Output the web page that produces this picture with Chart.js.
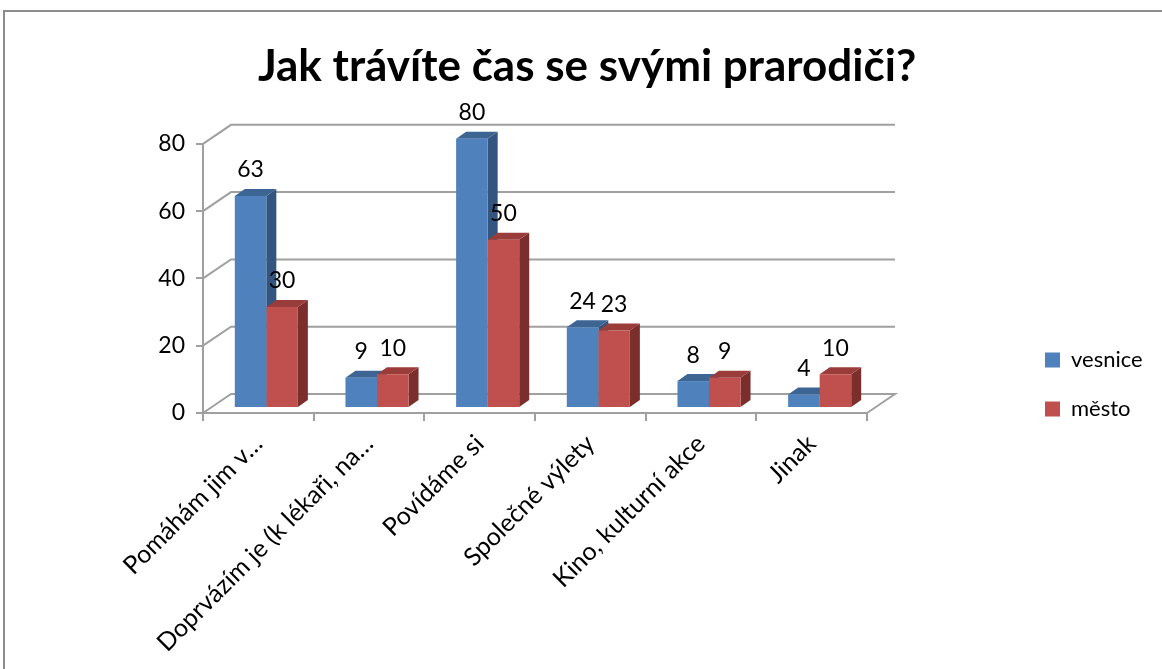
<!DOCTYPE html>
<html>
<head>
<meta charset="utf-8">
<script src="https://cdn.jsdelivr.net/npm/chart.js@4.4.1/dist/chart.umd.min.js"></script>
<style>
  html, body { margin: 0; padding: 0; background: #fff; }
  #wrap { position: relative; width: 1162px; height: 669px; }
  #frame { position: absolute; left: 3px; top: 10px; right: -5px; bottom: -5px;
           border-left: 2px solid #8c8c8c; border-top: 2px solid #8c8c8c; }
  canvas { position: absolute; left: 0; top: 0; }
</style>
</head>
<body>
<div id="wrap">
  <div id="frame"></div>
  <canvas id="myChart" width="1162" height="669"></canvas>
</div>
<script>
/* data */
const categories = [
  "Pomáhám jim v…",
  "Doprvázím je (k lékaři, na…",
  "Povídáme si",
  "Společné výlety",
  "Kino, kulturní akce",
  "Jinak"
];
const seriesNames = ["vesnice", "město"];
const vesnice = [63, 9, 80, 24, 8, 4];
const mesto = [30, 10, 50, 23, 9, 10];
const yTicks = [0, 20, 40, 60, 80];

/* colours: front, top, side */
const blue = ["#4f81bd", "#3c6594", "#33557f"];
const red = ["#c0504d", "#9a3c3a", "#7b2f2d"];
const gridColor = "#a0a0a0";
const fontName = "Lato, 'Open Sans', sans-serif";

/* 3d offsets */
const WALL = { dx: 28, dy: -19 };
const BAR_SHIFT = { dx: 8, dy: -5 };
const BAR_DEPTH = { dx: 10, dy: -7 };

/*--------------- fondo 3D: paredes y lineas de la cuadricula ---------------*/
const wallPlugin = {
  id: "wall3d",
  beforeDatasetsDraw(chart) {
    const ctx = chart.ctx;
    const y = chart.scales.y;
    const xl = chart.chartArea.left, xr = chart.chartArea.right;
    ctx.save();
    ctx.strokeStyle = gridColor;
    ctx.lineWidth = 2;
    yTicks.forEach((v) => {
      const py = y.getPixelForValue(v);
      ctx.beginPath();
      ctx.moveTo(xl, py);
      ctx.lineTo(xl + WALL.dx, py + WALL.dy);
      ctx.lineTo(xr + WALL.dx, py + WALL.dy);
      if (v === 0) ctx.lineTo(xr, py);
      ctx.stroke();
    });
    ctx.restore();

    /* caras laterales y superiores de las barras */
    ctx.save();
    ctx.translate(BAR_SHIFT.dx, BAR_SHIFT.dy);
    chart.data.datasets.forEach((ds, i) => {
      const meta = chart.getDatasetMeta(i);
      const pal = i === 0 ? blue : red;
      meta.data.forEach((bar) => {
        const l = bar.x - bar.width / 2, r = bar.x + bar.width / 2;
        const t = bar.y, b = bar.base;
        // lado
        ctx.fillStyle = pal[2];
        ctx.beginPath();
        ctx.moveTo(r, t);
        ctx.lineTo(r + BAR_DEPTH.dx, t + BAR_DEPTH.dy);
        ctx.lineTo(r + BAR_DEPTH.dx, b + BAR_DEPTH.dy);
        ctx.lineTo(r, b);
        ctx.closePath();
        ctx.fill();
        // arriba
        ctx.fillStyle = pal[1];
        ctx.beginPath();
        ctx.moveTo(l, t);
        ctx.lineTo(l + BAR_DEPTH.dx, t + BAR_DEPTH.dy);
        ctx.lineTo(r + BAR_DEPTH.dx, t + BAR_DEPTH.dy);
        ctx.lineTo(r, t);
        ctx.closePath();
        ctx.fill();
      });
    });
    // la parte frontal la dibuja Chart.js con el mismo desplazamiento
  },
  afterDatasetsDraw(chart) {
    const ctx = chart.ctx;
    /* etiquetas de datos */
    ctx.fillStyle = "#000";
    ctx.font = "23px " + fontName;
    ctx.textAlign = "center";
    ctx.textBaseline = "middle";
    chart.data.datasets.forEach((ds, i) => {
      const meta = chart.getDatasetMeta(i);
      meta.data.forEach((bar, j) => {
        ctx.fillText(String(ds.data[j]), bar.x, bar.y - 26);
      });
    });
    ctx.restore();
  },
  afterLayout(chart) {
    /* mover la leyenda y centrar el titulo */
    const lg = chart.legend;
    const w = lg.right - lg.left, h = lg.bottom - lg.top;
    lg.left = 1018; lg.right = lg.left + w;
    lg.top = 322; lg.bottom = lg.top + h;
    const tb = chart.titleBlock;
    tb.left = 0; tb.right = 1174;
    tb.width = tb.right - tb.left;
  }
};

const ctx = document.getElementById("myChart");
const dataset = {
  labels: categories,
  datasets: [
    { label: seriesNames[0], data: vesnice, backgroundColor: blue[0], clip: false },
    { label: seriesNames[1], data: mesto, backgroundColor: red[0], clip: false }
  ]
};

const config = {
  type: "bar",
  data: dataset,
  options: {
    responsive: false,
    animation: false,
    layout: { padding: { left: 0, right: 295, top: 0, bottom: 0 } },
    datasets: { bar: { categoryPercentage: 0.57, barPercentage: 1.0 } },
    plugins: {
      title: {
        display: true,
        text: "Jak trávíte čas se svými prarodiči?",
        color: "#000",
        font: { family: fontName, size: 44, weight: "bold" },
        padding: { top: 40, bottom: 51 }
      },
      legend: {
        position: "chartArea",
        align: "start",
        labels: {
          boxWidth: 15,
          boxHeight: 15,
          padding: 27,
          color: "#000",
          font: { family: fontName, size: 22 }
        }
      },
      tooltip: { enabled: false }
    },
    scales: {
      x: {
        grid: { drawOnChartArea: false, color: gridColor, lineWidth: 2, tickLength: 8 },
        border: { color: gridColor, width: 2 },
        ticks: {
          color: "#000",
          font: { family: fontName, size: 25 },
          maxRotation: 45,
          minRotation: 45,
          autoSkip: false,
          padding: 8,
          labelOffset: 0
        },
        afterFit: (s) => { s.height = 669 - 413; }
      },
      y: {
        min: 0,
        max: 80,
        grid: { drawOnChartArea: false, color: gridColor, lineWidth: 2, tickLength: 7 },
        border: { color: gridColor, width: 2 },
        ticks: {
          stepSize: 20,
          color: "#000",
          font: { family: fontName, size: 23 },
          padding: 11
        },
        afterFit: (s) => { s.width = 203; }
      }
    }
  },
  plugins: [wallPlugin]
};

const chart = new Chart(ctx, config);
</script>
</body>
</html>
